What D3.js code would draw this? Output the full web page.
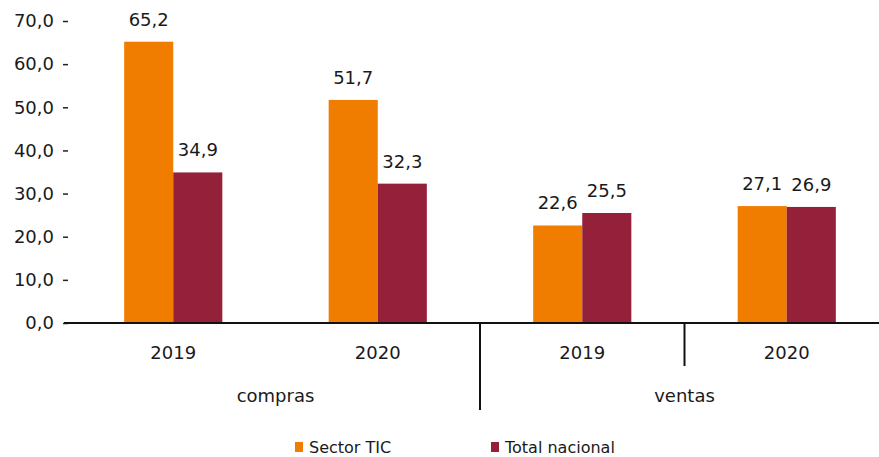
<!DOCTYPE html>
<html><head><meta charset="utf-8">
<script src="https://cdn.jsdelivr.net/npm/d3@7"></script>
<style>body{margin:0;background:#fff}svg{display:block}text{font-family:"DejaVu Sans",Verdana,sans-serif;fill:#1a1a1a}</style>
</head><body><svg id="c" width="879" height="457"></svg>
<script>
const groups = ["compras", "compras", "ventas", "ventas"];
const years = ["2019", "2020", "2019", "2020"];
const seriesNames = ["Sector TIC", "Total nacional"];
const sectorTIC = [65.2, 51.7, 22.6, 27.1];
const totalNacional = [34.9, 32.3, 25.5, 26.9];
const yTicks = [0, 10, 20, 30, 40, 50, 60, 70];
const colors = ["#F07C00", "#952039"];

const svg = d3.select("#c");
const fmt = v => d3.format(".1f")(v).replace(".", ",");
const keys = years.map((y, i) => i);
const x = d3.scaleBand().domain(keys).range([71, 889]).paddingInner(0.52).paddingOuter(0.26);
const y = d3.scaleLinear().domain([0, 70]).range([323, 21]);
const xs = d3.scaleBand().domain([0, 1]).range([0, x.bandwidth()]);

// y axis labels and ticks
const yAxis = d3.axisLeft(y).tickValues(yTicks).tickFormat(fmt).tickSize(5).tickPadding(9);
const ga = svg.append("g").attr("transform", "translate(68,0)").call(yAxis);
ga.select(".domain").remove();
ga.selectAll("line").attr("stroke", "#222").attr("stroke-width", 1.5);
ga.selectAll("text").style("font-size", "18px").attr("fill", "#1a1a1a").style("font-family", "DejaVu Sans");

// bars
const data = [sectorTIC, totalNacional];
data.forEach((arr, s) => {
  svg.append("g").selectAll("rect").data(arr).join("rect")
    .attr("x", (d, i) => x(i) + xs(s))
    .attr("width", xs.bandwidth())
    .attr("y", d => y(d))
    .attr("height", d => y(0) - y(d))
    .attr("fill", colors[s]);
  svg.append("g").selectAll("text").data(arr).join("text")
    .attr("x", (d, i) => x(i) + xs(s) + xs.bandwidth() / 2)
    .attr("y", d => y(d) - 16)
    .attr("text-anchor", "middle")
    .style("font-size", "18px")
    .text(fmt);
});

// baseline
svg.append("line").attr("x1", 64).attr("x2", 879).attr("y1", y(0)).attr("y2", y(0))
  .attr("stroke", "#111").attr("stroke-width", 2);

// category labels
svg.append("g").selectAll("text").data(keys).join("text")
  .attr("x", i => x(i) + x.bandwidth() / 2)
  .attr("y", 359)
  .attr("text-anchor", "middle").style("font-size", "18px")
  .text(i => years[i]);

const groupNames = Array.from(new Set(groups));
groupNames.forEach(g => {
  const idx = keys.filter(i => groups[i] === g);
  const cx = d3.mean(idx, i => x(i) + x.bandwidth() / 2);
  svg.append("text").attr("x", cx).attr("y", 402).attr("text-anchor", "middle")
    .style("font-size", "18px").text(g);
});

// dividers
const mid = (a, b) => (x(a) + x.bandwidth() + x(b)) / 2;
svg.append("line").attr("x1", mid(1, 2)).attr("x2", mid(1, 2)).attr("y1", y(0)).attr("y2", 410)
  .attr("stroke", "#111").attr("stroke-width", 2);
svg.append("line").attr("x1", mid(2, 3)).attr("x2", mid(2, 3)).attr("y1", y(0)).attr("y2", 366)
  .attr("stroke", "#111").attr("stroke-width", 2);

// legend
const legX = [295, 491];
seriesNames.forEach((n, s) => {
  svg.append("rect").attr("x", legX[s]).attr("y", 442).attr("width", 8).attr("height", 10).attr("fill", colors[s]);
  svg.append("text").attr("x", legX[s] + 14).attr("y", 453).style("font-size", "16px").text(n);
});
</script></body></html>
